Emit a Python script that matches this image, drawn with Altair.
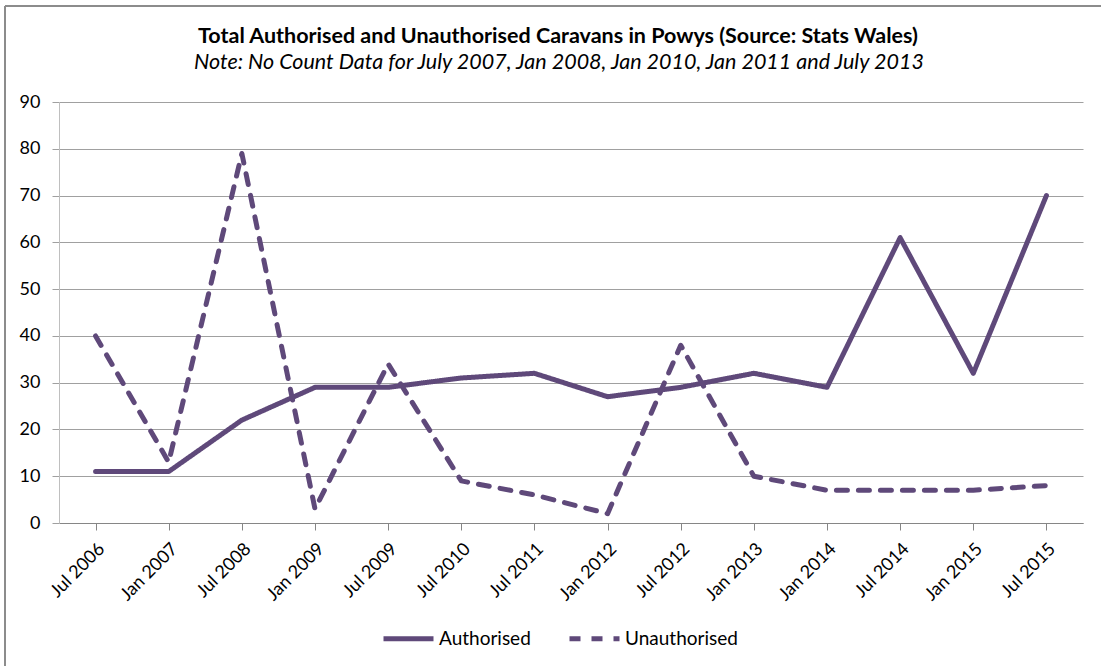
import altair as alt
import pandas as pd

# Caravan counts for Powys, by count period
periods = ["Jul 2006", "Jan 2007", "Jul 2008", "Jan 2009", "Jul 2009", "Jul 2010",
           "Jul 2011", "Jan 2012", "Jul 2012", "Jan 2013", "Jan 2014", "Jul 2014",
           "Jan 2015", "Jul 2015"]
authorised = [11, 11, 22, 29, 29, 31, 32, 27, 29, 32, 29, 61, 32, 70]
unauthorised = [40, 13, 79, 3, 34, 9, 6, 2, 38, 10, 7, 7, 7, 8]
series_names = ["Authorised", "Unauthorised"]
y_ticks = list(range(0, 100, 10))

title_text = "Total Authorised and Unauthorised Caravans in Powys (Source: Stats Wales)"
subtitle_text = "Note: No Count Data for July 2007, Jan 2008, Jan 2010, Jan 2011 and July 2013"

rows = []
for name, values in zip(series_names, [authorised, unauthorised]):
    for p, v in zip(periods, values):
        rows.append({"Period": p, "Series": name, "Caravans": v})
df = pd.DataFrame(rows)

PURPLE = "#5F497A"
FONT = "Lato"
W, H = 1024, 421

lines = alt.Chart(df).mark_line(
    strokeWidth=5, strokeCap="round", strokeJoin="round"
).encode(
    x=alt.X(
        "Period:N", sort=periods, title=None,
        scale=alt.Scale(paddingInner=0, paddingOuter=0),
        axis=alt.Axis(
            bandPosition=0, labelAngle=-45, labelAlign="right", labelBaseline="middle",
            labelOffset=6, labelPadding=16, tickSize=7, grid=False,
            domainColor="#868686", tickColor="#868686",
        ),
    ),
    y=alt.Y(
        "Caravans:Q", title=None,
        scale=alt.Scale(domain=[0, 90], nice=False),
        axis=alt.Axis(
            values=y_ticks, tickSize=7, labelPadding=12,
            domainColor="#BFBFBF", tickColor="#A0A0A0",
            gridColor="#A0A0A0",
        ),
    ),
    color=alt.Color(
        "Series:N", title=None,
        scale=alt.Scale(domain=series_names, range=[PURPLE, PURPLE]),
        legend=alt.Legend(
            orient="none", direction="horizontal", legendX=322, legendY=509,
            symbolType="stroke", symbolSize=2500, symbolStrokeWidth=5,
            labelFontSize=19, labelFont=FONT, labelColor="black",
            labelOffset=3, columnPadding=28,
        ),
    ),
    strokeDash=alt.StrokeDash(
        "Series:N", title=None,
        scale=alt.Scale(domain=series_names, range=[[1, 0], [11, 11]]),
    ),
)

one_row = alt.Data(values=[{"k": 0}])

# outer chart frame (left and top edges)
frame_left = alt.Chart(one_row).mark_rule(color="#8C8C8C", strokeWidth=2).encode(
    x=alt.value(-54), y=alt.value(-96), y2=alt.value(H + 200)
)
frame_top = alt.Chart(one_row).mark_rule(color="#8C8C8C", strokeWidth=2).encode(
    x=alt.value(-54), x2=alt.value(W + 100), y=alt.value(-96)
)

# heading lines above the plot
heading = alt.Chart(one_row).mark_text(
    font=FONT, fontSize=21.5, fontWeight="bold", color="black",
    align="center", baseline="alphabetic",
).encode(x=alt.value(W / 2 - 13), y=alt.value(-59), text=alt.value(title_text))
subheading = alt.Chart(one_row).mark_text(
    font=FONT, fontSize=21.5, fontStyle="italic", color="black",
    align="center", baseline="alphabetic",
).encode(x=alt.value(W / 2 - 12), y=alt.value(-33), text=alt.value(subtitle_text))

chart = alt.layer(frame_left, frame_top, heading, subheading, lines).properties(
    width=W, height=H,
    autosize=alt.AutoSizeParams(type="none"),
    padding={"left": 59, "top": 102, "right": 18, "bottom": 143},
    background="white",
).configure_view(stroke=None).configure_axis(
    labelFont=FONT, labelFontSize=18, labelColor="black",
)

chart.save("out.html", embed_options={"renderer": "svg", "actions": False})
